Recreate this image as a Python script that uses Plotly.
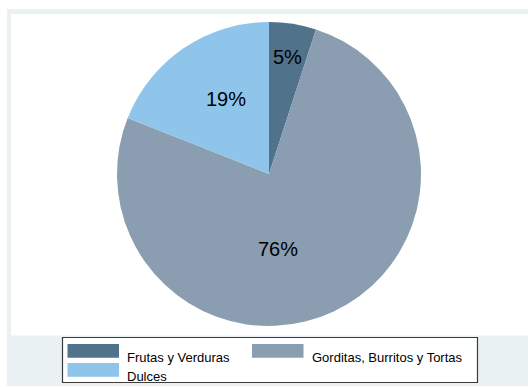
import plotly.graph_objects as go

# Shares by food category (percent)
categories = ["Frutas y Verduras", "Gorditas, Burritos y Tortas", "Dulces"]
shares = [5, 76, 19]
colors = ["#50728a", "#8a9db1", "#8fc5ea"]

W, H = 528, 387
FONT = "Arial, Liberation Sans, sans-serif"


def px(x):
    return x / W


def py(y):
    return 1 - y / H


fig = go.Figure(
    go.Pie(
        labels=categories,
        values=shares,
        marker=dict(colors=colors, line=dict(width=0)),
        sort=False,
        direction="clockwise",
        rotation=0,
        textinfo="none",
        hoverinfo="label+percent",
        showlegend=False,
        domain=dict(x=[px(117), px(421)], y=[py(326), py(22)]),
    )
)

shapes = [
    # outer graph region
    dict(type="rect", xref="paper", yref="paper", x0=px(7), x1=1.0,
         y0=py(386), y1=py(9), fillcolor="#e9f1f3", line=dict(width=0),
         layer="below"),
    # plot region
    dict(type="rect", xref="paper", yref="paper", x0=px(11), x1=1.0,
         y0=py(335.5), y1=py(14), fillcolor="white", line=dict(width=0),
         layer="below"),
    # legend frame
    dict(type="rect", xref="paper", yref="paper", x0=px(62.5), x1=px(477.5),
         y0=py(382.5), y1=py(337.5), fillcolor="white",
         line=dict(color="#3c3c3c", width=1.2), layer="below"),
]

# legend keys: (left, top) of each swatch and its label
key_pos = [(67.5, 344), (252, 344), (67.5, 363)]
annotations = []
for name, col, (kx, ky) in zip(categories, colors, key_pos):
    shapes.append(dict(type="rect", xref="paper", yref="paper",
                       x0=px(kx), x1=px(kx + 51.5), y0=py(ky + 13.8), y1=py(ky),
                       fillcolor=col, line=dict(width=0)))
    annotations.append(dict(text=name, xref="paper", yref="paper",
                            x=px(kx + 57.5), y=py(ky + 13), xanchor="left",
                            yanchor="middle", showarrow=False,
                            font=dict(family=FONT, size=13, color="black")))

# slice percentage labels
label_pos = [(287, 56.5), (277.5, 249.5), (225.5, 98.5)]
for v, (lx, ly) in zip(shares, label_pos):
    annotations.append(dict(text=f"{v}%", xref="paper", yref="paper",
                            x=px(lx), y=py(ly), xanchor="center",
                            yanchor="middle", showarrow=False,
                            font=dict(family=FONT, size=20, color="black")))

fig.update_layout(
    width=W, height=H,
    margin=dict(l=0, r=0, t=0, b=0),
    paper_bgcolor="white",
    plot_bgcolor="white",
    shapes=shapes,
    annotations=annotations,
)

fig.write_html("out.html")
